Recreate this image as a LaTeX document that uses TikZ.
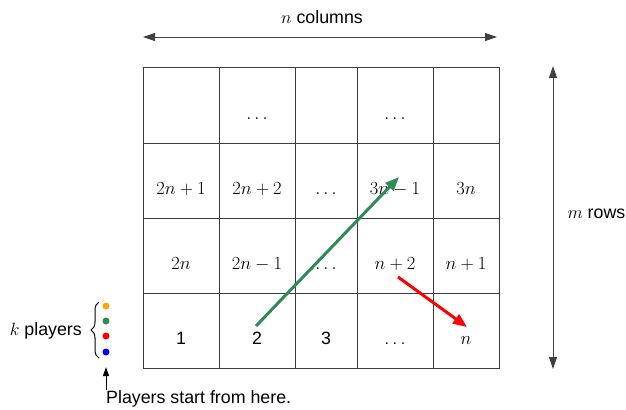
\RequirePackage{fix-cm}
\documentclass[tikz,border=0pt]{standalone}
\usepackage{fontspec}
\setmainfont{Liberation Sans}
\usetikzlibrary{arrows.meta,decorations.pathreplacing}
\definecolor{porange}{RGB}{255,165,0}
\definecolor{pgreen}{RGB}{46,139,87}
\definecolor{pred}{RGB}{255,0,0}
\definecolor{pblue}{RGB}{0,0,255}
\definecolor{gridc}{RGB}{60,60,60}
\tikzset{
  cell/.style={draw=gridc, line width=1bp, inner sep=0pt, rectangle},
  lbl/.style={inner sep=0pt, anchor=base, font=\fontsize{18.5bp}{22bp}\selectfont},
  txt/.style={inner sep=0pt},
  dimarrow/.style={draw=black!75, line width=1bp, {Triangle[length=12bp,width=8bp]}-{Triangle[length=12bp,width=8bp]}},
  movearrow/.style={line width=3bp, -{Triangle[length=14bp,width=11bp]}},
  pdot/.style={circle, inner sep=0pt, minimum size=7bp},
}
\begin{document}
\begin{tikzpicture}[x=1bp,y=-1bp,font=\fontsize{17.8bp}{21bp}\selectfont]
\useasboundingbox (0,0) rectangle (626,409);
% grid cells
\foreach \c/\x/\w in {1/181/76,2/257/76,3/326/62,4/395/76,5/466/66}{
  \foreach \r/\y/\h in {1/105/76,2/180.5/75,3/255.5/75,4/330.5/75}{
    \node[cell, minimum width=\w bp, minimum height=\h bp] (c\r\c) at (\x,\y) {};
  }
}
% labels
\node[lbl] (t12) at ([yshift=-14bp]c12.center) {$\dots$};
\node[lbl] (t14) at ([yshift=-14bp]c14.center) {$\dots$};
\node[lbl] (t21) at ([yshift=-14bp]c21.center) {$2n+1$};
\node[lbl] (t22) at ([yshift=-14bp]c22.center) {$2n+2$};
\node[lbl] (t23) at ([yshift=-14bp]c23.center) {$\dots$};
\node[lbl] (t24) at ([yshift=-14bp]c24.center) {$3n-1$};
\node[lbl] (t25) at ([yshift=-14bp]c25.center) {$3n$};
\node[lbl] (t31) at ([yshift=-14bp]c31.center) {$2n$};
\node[lbl] (t32) at ([yshift=-14bp]c32.center) {$2n-1$};
\node[lbl] (t33) at ([yshift=-14bp]c33.center) {$\dots$};
\node[lbl] (t34) at ([yshift=-14bp]c34.center) {$n+2$};
\node[lbl] (t35) at ([yshift=-14bp]c35.center) {$n+1$};
\node[lbl, font=\fontsize{17.8bp}{21bp}\selectfont] (t41) at ([yshift=-14bp]c41.center) {1};
\node[lbl, font=\fontsize{17.8bp}{21bp}\selectfont] (t42) at ([yshift=-14bp]c42.center) {2};
\node[lbl, font=\fontsize{17.8bp}{21bp}\selectfont] (t43) at ([yshift=-14bp]c43.center) {3};
\node[lbl] (t44) at ([yshift=-14bp]c44.center) {$\dots$};
\node[lbl] (t45) at ([yshift=-14bp]c45.center) {$n$};
% dimension arrows
\coordinate (colL) at (143,37);
\coordinate (colR) at (497,37);
\draw[dimarrow] (colL) -- (colR);
\node[txt, anchor=base] (ncol) at (322,23) {$n$ columns};
\coordinate (rowT) at (553,66);
\coordinate (rowB) at (553,369);
\draw[dimarrow] (rowT) -- (rowB);
\node[txt, anchor=base east] (mrow) at (625.5,218) {$m$ rows};
% move arrows
\coordinate (gs) at (256,326);
\coordinate (ge) at (399,177);
\draw[movearrow, draw=pgreen, fill=pgreen] (gs) -- (ge);
\coordinate (rs) at (398,277);
\coordinate (re) at (467,327);
\draw[movearrow, draw=pred, fill=pred] (rs) -- (re);
% players
\node[pdot, fill=porange] (p1) at (106,306) {};
\node[pdot, fill=pgreen] (p2) at (106,321) {};
\node[pdot, fill=pred] (p3) at (106,336) {};
\node[pdot, fill=pblue] (p4) at (106,352) {};
\coordinate (bb) at (99,358);
\coordinate (bt) at (99,302);
\draw[decorate, decoration={brace, amplitude=8bp}, line width=1bp] (bb) -- (bt);
\node[txt, anchor=base east] (kpl) at (82,335) {$k$ players};
\node[txt, anchor=base west] (start) at (106,403) {Players start from here.};
\coordinate (ptip) at (106,367);
\draw[line width=1bp, -{Triangle[length=9bp,width=6bp]}] (ptip |- start.north) -- (ptip);
\end{tikzpicture}
\end{document}
